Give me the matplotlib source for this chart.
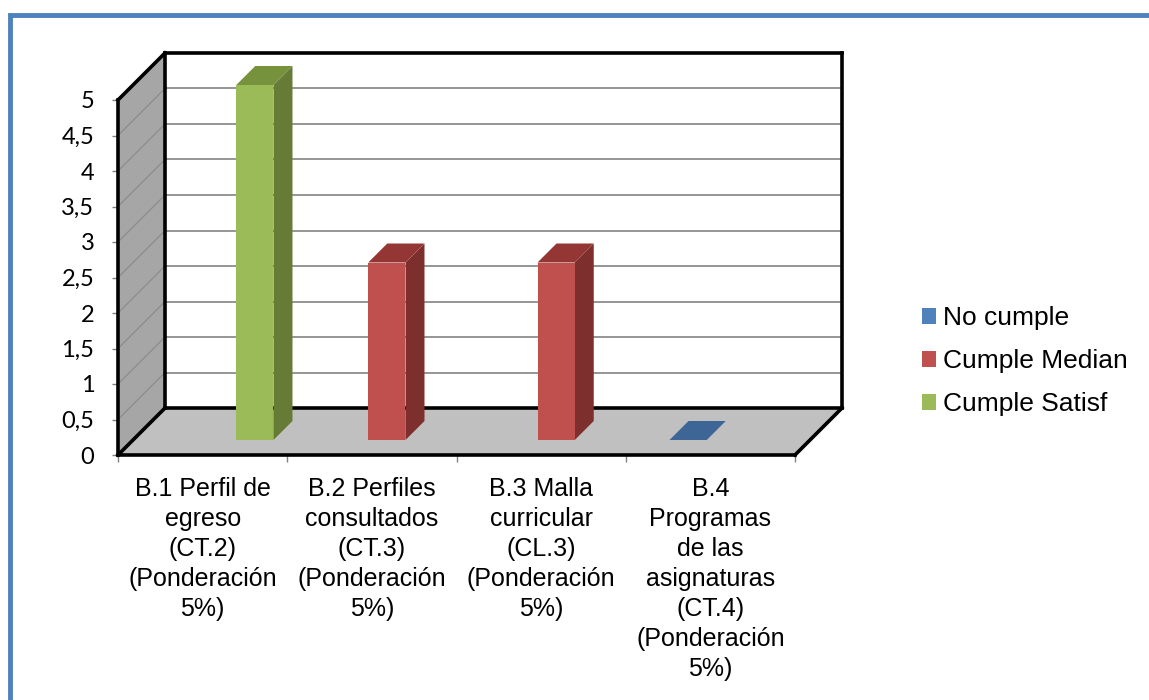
import matplotlib
matplotlib.use('Agg')
import matplotlib.pyplot as plt
from matplotlib.patches import Polygon, Patch, Rectangle

categories = [
    'B.1 Perfil de\negreso\n(CT.2)\n(Ponderación\n5%)',
    'B.2 Perfiles\nconsultados\n(CT.3)\n(Ponderación\n5%)',
    'B.3 Malla\ncurricular\n(CL.3)\n(Ponderación\n5%)',
    'B.4\nProgramas\nde las\nasignaturas\n(CT.4)\n(Ponderación\n5%)',
]
series_names = ['No cumple', 'Cumple Median', 'Cumple Satisf']
no_cumple = [None, None, None, 0]
cumple_median = [None, 2.5, 2.5, None]
cumple_satisf = [5, None, None, None]
y_ticks = [0, 0.5, 1, 1.5, 2, 2.5, 3, 3.5, 4, 4.5, 5]
y_tick_labels = ['0', '0,5', '1', '1,5', '2', '2,5', '3', '3,5', '4', '4,5', '5']

# front, side, top colours per series
colors = [
    ('#4f81bd', '#2f4f75', '#3d6696'),
    ('#c0504d', '#7d2f2d', '#933634'),
    ('#9bbb59', '#667b36', '#76923c'),
]

W, H = 1149, 700
fig = plt.figure(figsize=(W / 100, H / 100), dpi=100)
ax = fig.add_axes([118 / W, 245 / H, 677 / W, 355 / H])
ax.set_xlim(-0.5, len(categories) - 0.5)
ax.set_ylim(0, 5)
for s in ax.spines.values():
    s.set_visible(False)

# pixels per data unit, used for the oblique depth offset
px_x = 677 / len(categories)
px_y = 355 / 5
WALL_D = 47
BAR_D0, BAR_D1 = 15, 34
BAR_W = 0.22


def P(x, y, d):
    return (x + d / px_x, y + d / px_y)


def poly(pts, color, z, **kw):
    ax.add_patch(Polygon(pts, closed=True, facecolor=color, edgecolor='none',
                         zorder=z, clip_on=False, **kw))


def line(p0, p1, z, color='black', lw=2.6):
    ax.plot([p0[0], p1[0]], [p0[1], p1[1]], color=color, lw=lw, zorder=z,
            clip_on=False, solid_capstyle='projecting')


x0, x1 = -0.5, len(categories) - 0.5
# walls and floor
poly([P(x0, 0, WALL_D), P(x1, 0, WALL_D), P(x1, 5, WALL_D), P(x0, 5, WALL_D)], 'white', 1)
poly([P(x0, 0, 0), P(x0, 5, 0), P(x0, 5, WALL_D), P(x0, 0, WALL_D)], '#a6a6a6', 1)
poly([P(x0, 0, 0), P(x1, 0, 0), P(x1, 0, WALL_D), P(x0, 0, WALL_D)], '#c0c0c0', 1)

# gridlines on back wall and side wall
for v in y_ticks[1:-1]:
    line(P(x0, v, WALL_D), P(x1, v, WALL_D), 2, color='#8c8c8c', lw=1.3)
    line(P(x0, v, 0), P(x0, v, WALL_D), 2, color='#8c8c8c', lw=0.9)

# back edges
line(P(x0, 5, WALL_D), P(x1, 5, WALL_D), 3)
line(P(x1, 5, WALL_D), P(x1, 0, WALL_D), 3)
line(P(x0, 5, WALL_D), P(x0, 0, WALL_D), 3)
line(P(x0, 0, WALL_D), P(x1, 0, WALL_D), 3)

# bars
all_series = [no_cumple, cumple_median, cumple_satisf]
for si, vals in enumerate(all_series):
    front, side, top = colors[si]
    for ci, v in enumerate(vals):
        if v is None:
            continue
        c = ci + (si - 1) * BAR_W
        a, b = c - BAR_W / 2, c + BAR_W / 2
        if v > 0:
            poly([P(a, 0, BAR_D0), P(b, 0, BAR_D0), P(b, v, BAR_D0), P(a, v, BAR_D0)], front, 5)
            poly([P(b, 0, BAR_D0), P(b, 0, BAR_D1), P(b, v, BAR_D1), P(b, v, BAR_D0)], side, 4)
        poly([P(a, v, BAR_D0), P(b, v, BAR_D0), P(b, v, BAR_D1), P(a, v, BAR_D1)], top, 4)

# front edges
line(P(x0, 0, 0), P(x1, 0, 0), 6)
line(P(x1, 0, 0), P(x1, 0, WALL_D), 6)
line(P(x0, 0, 0), P(x0, 0, WALL_D), 6)
line(P(x0, 0, 0), P(x0, 5, 0), 6)
line(P(x0, 5, 0), P(x0, 5, WALL_D), 6)

# axes ticks and labels
ax.set_yticks(y_ticks, labels=y_tick_labels)
ax.tick_params(axis='y', length=4, width=1, color='#808080', pad=13, labelsize=17)
for t in ax.get_yticklabels():
    t.set_fontfamily('Lato')
ax.set_xticks(range(len(categories)), labels=categories)
ax.set_xticks([x0 + i for i in range(len(categories) + 1)], minor=True)
ax.tick_params(axis='x', which='major', length=0, pad=16, labelsize=18)
ax.tick_params(axis='x', which='minor', length=5, width=1, color='#808080')
for t in ax.get_xticklabels():
    t.set_fontfamily('Liberation Sans')
    t.set_linespacing(1.31)

handles = [Patch(facecolor=colors[i][0], edgecolor='none') for i in range(3)]
fig.legend(handles, series_names, loc='center left', bbox_to_anchor=(898 / W, 1 - 361 / H),
           frameon=False, handlelength=0.55, handleheight=0.55, handletextpad=0.25,
           labelspacing=0.72, prop={'family': 'Liberation Sans', 'size': 19})

# outer border
fig.patches.append(Rectangle((10 / W, -0.05), 1.2, (H - 15) / H + 0.05,
                             transform=fig.transFigure, fill=False,
                             edgecolor='#4f81bd', lw=3.5))

fig.savefig('out.png', dpi=100)
